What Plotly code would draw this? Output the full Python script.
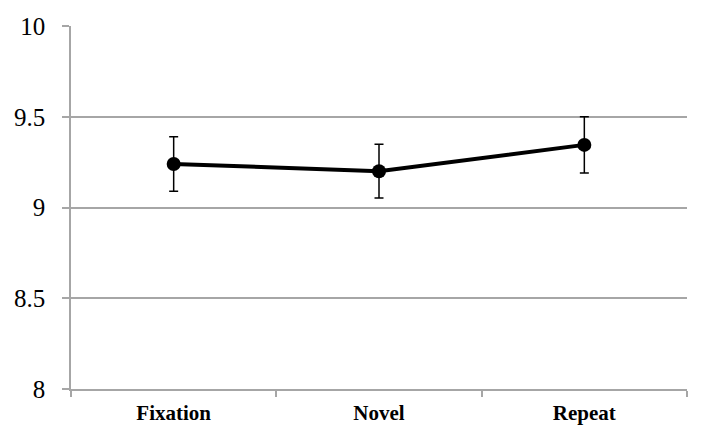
import plotly.graph_objects as go

categories = ["Fixation", "Novel", "Repeat"]
means = [9.24, 9.20, 9.345]
errors = [0.15, 0.148, 0.155]
y_ticks = [8, 8.5, 9, 9.5, 10]
y_tick_labels = ["8", "8.5", "9", "9.5", "10"]

fig = go.Figure()
fig.add_trace(go.Scatter(
    x=categories, y=means, mode="lines+markers",
    line=dict(color="black", width=4),
    marker=dict(color="black", size=14),
    error_y=dict(type="data", array=errors, visible=True,
                 color="black", thickness=1.5, width=4.5),
    showlegend=False,
))

grid = "#a6a6a6"
serif = "Liberation Serif, Times New Roman, serif"
fig.update_layout(
    width=701, height=431,
    margin=dict(l=63, r=22, t=18, b=50),
    paper_bgcolor="white", plot_bgcolor="white",
    font=dict(family=serif, color="black"),
)
fig.update_xaxes(
    type="category", range=[-0.5, 2.5], automargin=False,
    showline=True, linecolor=grid, linewidth=1.5,
    ticks="outside", tickson="boundaries", ticklen=6, tickcolor=grid, tickwidth=1.5,
    showgrid=False,
    ticklabelstandoff=4,
    tickfont=dict(size=21, family=serif, weight="bold"),
)
fig.update_yaxes(
    range=[8, 10], tickvals=y_ticks, ticktext=y_tick_labels, automargin=False,
    showline=True, linecolor=grid, linewidth=1.5,
    ticks="outside", ticklen=7, tickcolor=grid, tickwidth=1.5,
    showgrid=True, gridcolor=grid, gridwidth=1.5,
    zeroline=False,
    ticklabelstandoff=12,
    tickfont=dict(size=25, family=serif),
)

fig.write_html("out.html")
